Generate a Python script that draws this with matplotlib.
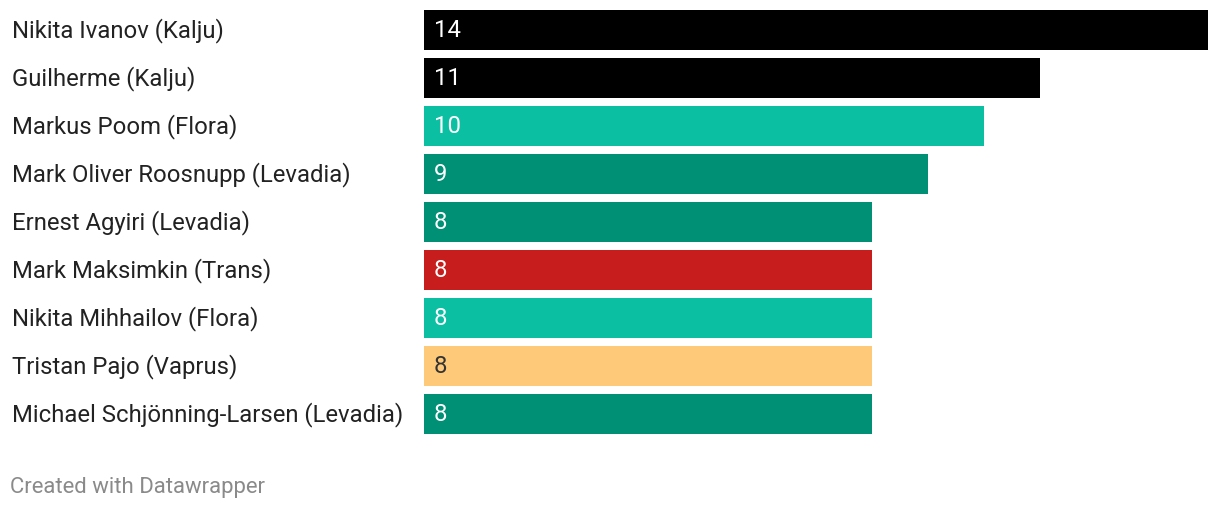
import matplotlib.pyplot as plt

players = [
    "Nikita Ivanov (Kalju)",
    "Guilherme (Kalju)",
    "Markus Poom (Flora)",
    "Mark Oliver Roosnupp (Levadia)",
    "Ernest Agyiri (Levadia)",
    "Mark Maksimkin (Trans)",
    "Nikita Mihhailov (Flora)",
    "Tristan Pajo (Vaprus)",
    "Michael Schjönning-Larsen (Levadia)",
]
goals = [14, 11, 10, 9, 8, 8, 8, 8, 8]
clubs = ["Kalju", "Kalju", "Flora", "Levadia", "Levadia", "Trans", "Flora", "Vaprus", "Levadia"]

club_colors = {
    "Kalju": "#000000",
    "Flora": "#0bbfa3",
    "Levadia": "#009076",
    "Trans": "#c71e1d",
    "Vaprus": "#fec978",
}
label_colors = {"Vaprus": "#333333"}

plt.rcParams["font.family"] = ["Roboto", "DejaVu Sans"]

W, H = 1220, 510
fig = plt.figure(figsize=(W / 100, H / 100), dpi=100)
# bars run from pixel y=10 to 434, x=424 to 1208 (14 goals)
ax = fig.add_axes([424 / W, 1 - 435 / H, 784 / W, 424 / H])

ypos = list(range(len(players)))
colors = [club_colors[c] for c in clubs]
bar_h = 40 / 48
ax.barh(ypos, goals, height=bar_h, color=colors)

for y, g, c, name in zip(ypos, goals, clubs, players):
    ax.text(9.5 / 56, y, str(g), va="center", ha="left", fontsize=17.2,
            color=label_colors.get(c, "white"))
    ax.text(-412 / 56, y, name, va="center", ha="left", fontsize=17.2,
            color="#222222", clip_on=False)

ax.set_xlim(0, 14)
ax.set_ylim(len(players) - 1 + bar_h / 2, -bar_h / 2)
ax.axis("off")

fig.text(10 / W, 1 - 487 / H, "Created with Datawrapper", fontsize=15.9,
         color="#8a8a8a", va="center", ha="left")

fig.savefig("out.png", dpi=100)
